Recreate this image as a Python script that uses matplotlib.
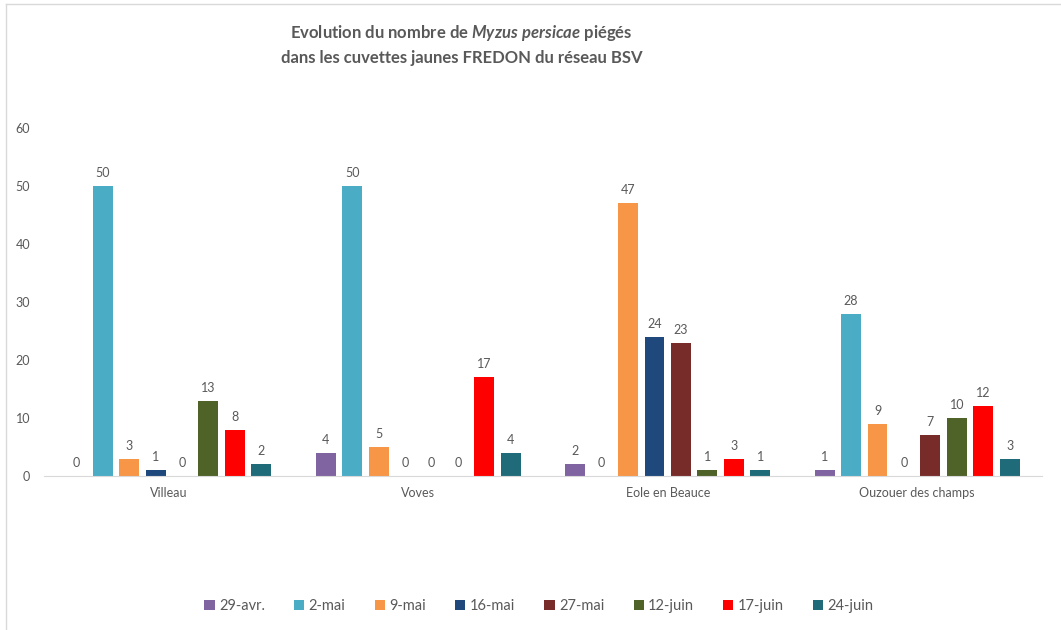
import numpy as np
import matplotlib.pyplot as plt
from matplotlib.lines import Line2D

plt.rcParams['font.family'] = ['Lato', 'DejaVu Sans']
plt.rcParams['mathtext.fontset'] = 'custom'
plt.rcParams['mathtext.it'] = 'Lato:italic:bold'

sites = ["Villeau", "Voves", "Eole en Beauce", "Ouzouer des champs"]
dates = ["29-avr.", "2-mai", "9-mai", "16-mai", "27-mai", "12-juin", "17-juin", "24-juin"]
colors = ["#8064A2", "#4BACC6", "#F79646", "#1F497D", "#772C2A", "#4F6228", "#FF0000", "#1F6B7A"]

# one list per trapping date, values per site
v_29avr = [0, 4, 2, 1]
v_2mai = [50, 50, 0, 28]
v_9mai = [3, 5, 47, 9]
v_16mai = [1, 0, 24, 0]
v_27mai = [0, 0, 23, 7]
v_12juin = [13, 0, 1, 10]
v_17juin = [8, 17, 3, 12]
v_24juin = [2, 4, 1, 3]
series = [v_29avr, v_2mai, v_9mai, v_16mai, v_27mai, v_12juin, v_17juin, v_24juin]

grey = "#595959"
fig = plt.figure(figsize=(10.61, 6.3), dpi=100)
ax = fig.add_axes([0.0415, 0.2444, 0.9405, 0.5526])

# thin frame of the chart area (top and left edges visible)
fig.add_artist(Line2D([6 / 1061, 6 / 1061], [0, 1 - 4 / 630], color="#D9D9D9", lw=1))
fig.add_artist(Line2D([6 / 1061, 1], [1 - 4 / 630, 1 - 4 / 630], color="#D9D9D9", lw=1))

x = np.arange(len(sites))
stride, width = 0.106, 0.08
for i, (lab, vals, c) in enumerate(zip(dates, series, colors)):
    pos = x + (i - 3.5) * stride
    bars = ax.bar(pos, vals, width, color=c, label=lab)
    for b, v in zip(bars, vals):
        ax.annotate(str(v), (b.get_x() + b.get_width() / 2, v), xytext=(0, 5),
                    textcoords="offset points", ha="center", va="bottom",
                    fontsize=9, color=grey)

ax.set_xlim(-0.5, len(sites) - 0.5)
ax.set_ylim(0, 60)
ax.set_yticks(range(0, 61, 10))
ax.set_xticks(x)
ax.set_xticklabels(sites)
ax.tick_params(axis="both", length=0, labelsize=9, colors=grey)
ax.tick_params(axis="y", pad=10)
ax.tick_params(axis="x", pad=8)
for s in ["top", "right", "left"]:
    ax.spines[s].set_visible(False)
ax.spines["bottom"].set_color("#D9D9D9")

fig.text(0.435, 0.948, "Evolution du nombre de $Myzus\\ persicae$ piégés",
         ha="center", va="center", fontsize=12, color=grey, fontweight="bold")
fig.text(0.435, 0.908, "dans les cuvettes jaunes FREDON du réseau BSV",
         ha="center", va="center", fontsize=12, color=grey, fontweight="bold")

fig.legend(loc="center", bbox_to_anchor=(0.508, 0.038), ncol=8, frameon=False,
           fontsize=10.5, labelcolor=grey, handlelength=0.7, handleheight=0.7,
           handletextpad=0.3, columnspacing=2.0)

fig.savefig("out.png", dpi=100)
